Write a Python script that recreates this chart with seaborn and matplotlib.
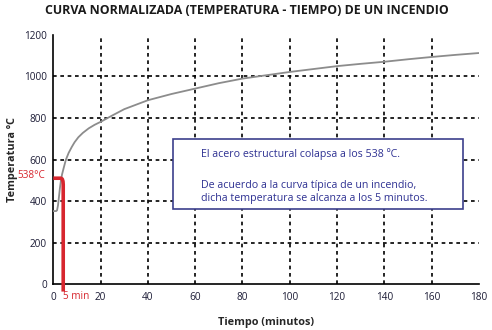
import matplotlib
matplotlib.use("Agg")
import matplotlib.pyplot as plt
import seaborn as sns
import pandas as pd
from matplotlib.patches import Rectangle

# ---- data ----
tiempo = [0, 1.2, 1.6, 2.0, 2.4, 2.8, 3.2, 3.7, 4.3, 5.3, 6.5, 7.8, 9, 10.6, 12.5, 15, 17.5, 20,
          25, 30, 40, 50, 60, 70, 80, 90, 100, 110, 120, 130, 140, 150, 160, 170, 180]
temperatura = [352, 352, 356, 380, 420, 462, 496, 528, 555, 598, 632, 660, 683, 707, 728, 750, 767, 781,
               812, 842, 885, 915, 941, 967, 989, 1005, 1021, 1035, 1049, 1060, 1070, 1082, 1093, 1103, 1112]
colapso_t = [0, 3.3, 3.8, 4.1, 4.2, 4.2]
colapso_T = [510, 510, 506, 495, 480, -35]
x_ticks = [0, 20, 40, 60, 80, 100, 120, 140, 160, 180]
y_ticks = [0, 200, 400, 600, 800, 1000, 1200]
titulo = "CURVA NORMALIZADA (TEMPERATURA - TIEMPO) DE UN INCENDIO"
texto_1 = "El acero estructural colapsa a los 538 ºC."
texto_2 = "De acuerdo a la curva típica de un incendio,\ndicha temperatura se alcanza a los 5 minutos."

sns.set_style("white")
plt.rcParams['font.family'] = ['Open Sans', 'DejaVu Sans']

fig = plt.figure(figsize=(4.92, 3.30), dpi=100)
ax = fig.add_axes([0.1083, 0.1385, 0.9736 - 0.1083, 0.8948 - 0.1385])

ax.set_xlim(0, 180)
ax.set_ylim(0, 1200)

# grid (interior ticks only)
for xv in x_ticks[1:-1]:
    ax.axvline(xv, color='black', lw=1.2, ls=(0, (2.2, 2.2)), zorder=1)
for yv in y_ticks[1:-1]:
    ax.axhline(yv, color='black', lw=1.2, ls=(0, (2.2, 2.2)), zorder=1)

df = pd.DataFrame({"t": tiempo, "T": temperatura})
sns.lineplot(data=df, x="t", y="T", ax=ax, color="#8c8c8c", lw=1.3, zorder=3)

ax.plot(colapso_t, colapso_T, color="#d7262e", lw=2.6, solid_joinstyle='round',
        solid_capstyle='butt', clip_on=False, zorder=4)

# annotation box
ax.add_patch(Rectangle((50.6, 361), 122.6, 336, facecolor='white', edgecolor='#3c3f8c',
                       lw=1.2, zorder=5))
ax.text(62.5, 625, texto_1, color='#2e3192', fontsize=7.7, va='center', ha='left', zorder=6)
ax.text(62.5, 444, texto_2, color='#2e3192', fontsize=7.7, va='center', ha='left',
        linespacing=1.3, zorder=6)

# ticks
ax.set_xticks(x_ticks)
ax.set_yticks(y_ticks)
ax.tick_params(axis='both', direction='inout', length=5, width=1.0, colors='black',
               labelsize=7.2, labelcolor='#1c1c36', pad=2)
ax.tick_params(axis='x', pad=3)

ax.text(4.0, -60, "5 min", color='#d7262e', fontsize=7.2, ha='left', va='center')
ax.text(-3.5, 521, "538°C", color='#d7262e', fontsize=7.2, ha='right', va='center')

for s in ['top', 'right']:
    ax.spines[s].set_visible(False)
for s in ['left', 'bottom']:
    ax.spines[s].set_color('black')
    ax.spines[s].set_linewidth(1.2)

ax.set_xlabel("Tiempo (minutos)", fontsize=7.8, fontweight='bold', labelpad=10)
ax.set_ylabel("Temperatura ºC", fontsize=7.8, fontweight='bold', labelpad=4)

fig.text(0.501, 0.967, titulo, fontsize=8.9, fontweight='bold', color='#1a1a1a',
         ha='center', va='center')

fig.savefig("out.png", dpi=100)
